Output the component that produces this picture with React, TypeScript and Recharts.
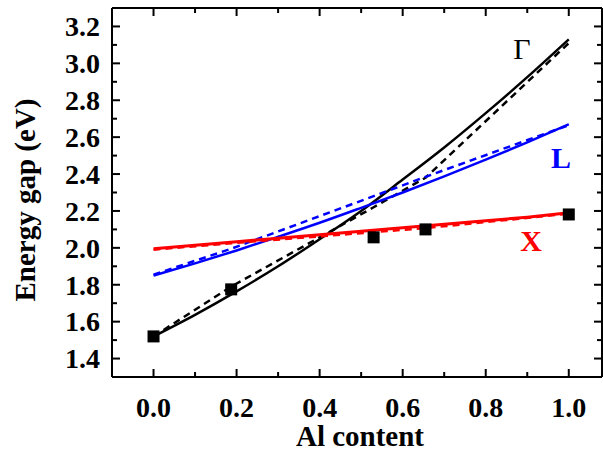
import {
  ComposedChart,
  Line,
  Scatter,
  XAxis,
  YAxis,
  ReferenceLine,
  ReferenceDot,
} from "recharts";

// fitted band-gap curves, read at x = 0 .. 1 step 0.1
const CURVE_X = [0, 0.1, 0.2, 0.3, 0.4, 0.5, 0.6, 0.7, 0.8, 0.9, 1.0];
const GAMMA_FIT = [1.52, 1.637, 1.764, 1.9, 2.047, 2.2, 2.37, 2.544, 2.73, 2.925, 3.13];
const L_FIT = [1.85, 1.916, 1.986, 2.06, 2.136, 2.217, 2.3, 2.387, 2.478, 2.572, 2.67];
const X_FIT = [1.995, 2.014, 2.033, 2.052, 2.071, 2.09, 2.109, 2.128, 2.147, 2.166, 2.19];

// dashed lines join values at the sample compositions
const SAMPLE_X = [0, 0.187, 0.53, 0.655, 1.0];
const GAMMA_LIN = [1.52, 1.79, 2.22, 2.38, 3.11];
const L_LIN = [1.855, 1.995, 2.28, 2.385, 2.665];
const X_LIN = [1.99, 2.025, 2.085, 2.107, 2.185];
const MEASURED = [1.52, 1.775, 2.057, 2.1, 2.181];

const X_TICKS = [0, 0.1, 0.2, 0.3, 0.4, 0.5, 0.6, 0.7, 0.8, 0.9, 1.0];
const Y_TICKS = [
  1.4, 1.5, 1.6, 1.7, 1.8, 1.9, 2.0, 2.1, 2.2, 2.3, 2.4, 2.5, 2.6, 2.7, 2.8,
  2.9, 3.0, 3.1, 3.2,
];

const W = 603;
const H = 459;
const TOP = 8;
const LEFT = 112;
const RIGHT = 602;
const BOTTOM = 377;
const FONT = "'Liberation Serif', 'Times New Roman', serif";

const zip = (xs: number[], ys: number[]) => xs.map((x, i) => ({ x, y: ys[i] }));

const isMajor = (v: number) => Math.round(v * 10) % 2 === 0;

function XTick({ x, payload }: any) {
  const v = payload.value;
  const len = isMajor(v) ? 8 : 5;
  return (
    <g>
      <line x1={x} y1={BOTTOM} x2={x} y2={BOTTOM - len} stroke="#000" strokeWidth={2} />
      <line x1={x} y1={TOP} x2={x} y2={TOP + len} stroke="#000" strokeWidth={2} />
      {isMajor(v) && (
        <text
          x={x}
          y={BOTTOM + 40}
          textAnchor="middle"
          fontFamily={FONT}
          fontWeight="bold"
          fontSize={28}
          fill="#000"
        >
          {v.toFixed(1)}
        </text>
      )}
    </g>
  );
}

function YTick({ y, payload }: any) {
  const v = payload.value;
  const len = isMajor(v) ? 8 : 5;
  return (
    <g>
      <line x1={LEFT} y1={y} x2={LEFT + len} y2={y} stroke="#000" strokeWidth={2} />
      <line x1={RIGHT} y1={y} x2={RIGHT - len} y2={y} stroke="#000" strokeWidth={2} />
      {isMajor(v) && (
        <text
          x={LEFT - 12}
          y={y}
          dy="0.35em"
          textAnchor="end"
          fontFamily={FONT}
          fontWeight="bold"
          fontSize={28}
          fill="#000"
        >
          {v.toFixed(1)}
        </text>
      )}
    </g>
  );
}

const Square = (p: any) => (
  <rect x={p.cx - 6} y={p.cy - 6} width={12} height={12} fill="#000" />
);

const curveLabel = (text: string, color: string, bold: boolean) => ({
  value: text,
  position: "center" as const,
  fill: color,
  fontFamily: FONT,
  fontWeight: bold ? "bold" : "normal",
  fontSize: 30,
});

export default function App() {
  return (
    <div style={{ position: "absolute", left: 0, top: 0, background: "#fff" }}>
      <ComposedChart
        width={W}
        height={H}
        margin={{ top: TOP, right: W - RIGHT, bottom: 0, left: 0 }}
      >
        <XAxis
          type="number"
          dataKey="x"
          domain={[-0.1, 1.08]}
          ticks={X_TICKS}
          interval={0}
          allowDataOverflow
          height={H - BOTTOM}
          tickSize={0}
          tickLine={false}
          axisLine={{ stroke: "#000", strokeWidth: 2 }}
          tick={<XTick />}
          label={{
            content: () => (
              <text
                x={360}
                y={446}
                textAnchor="middle"
                fontFamily={FONT}
                fontWeight="bold"
                fontSize={29}
                fill="#000"
              >
                Al content
              </text>
            ),
          }}
        />
        <YAxis
          type="number"
          domain={[1.3, 3.3]}
          ticks={Y_TICKS}
          interval={0}
          allowDataOverflow
          width={LEFT}
          tickSize={0}
          tickLine={false}
          axisLine={{ stroke: "#000", strokeWidth: 2 }}
          tick={<YTick />}
          label={{
            content: () => (
              <text
                transform="translate(35,200) rotate(-90)"
                textAnchor="middle"
                fontFamily={FONT}
                fontWeight="bold"
                fontSize={29}
                fill="#000"
              >
                Energy gap (eV)
              </text>
            ),
          }}
        />
        <ReferenceLine y={3.3} stroke="#000" strokeWidth={2} />
        <ReferenceLine x={1.08} stroke="#000" strokeWidth={2} />

        <Line data={zip(CURVE_X, GAMMA_FIT)} dataKey="y" type="monotone" stroke="#000" strokeWidth={2.5} dot={false} isAnimationActive={false} />
        <Line data={zip(SAMPLE_X, GAMMA_LIN)} dataKey="y" type="linear" stroke="#000" strokeWidth={2.5} strokeDasharray="7 5" dot={false} isAnimationActive={false} />
        <Line data={zip(CURVE_X, L_FIT)} dataKey="y" type="monotone" stroke="#0000ff" strokeWidth={2.5} dot={false} isAnimationActive={false} />
        <Line data={zip(SAMPLE_X, L_LIN)} dataKey="y" type="linear" stroke="#0000ff" strokeWidth={2.5} strokeDasharray="7 5" dot={false} isAnimationActive={false} />
        <Line data={zip(CURVE_X, X_FIT)} dataKey="y" type="linear" stroke="#ff0000" strokeWidth={3} dot={false} isAnimationActive={false} />
        <Line data={zip(SAMPLE_X, X_LIN)} dataKey="y" type="linear" stroke="#ff0000" strokeWidth={2.5} strokeDasharray="7 5" dot={false} isAnimationActive={false} />
        <Scatter data={zip(SAMPLE_X, MEASURED)} dataKey="y" shape={Square} isAnimationActive={false} />

        <ReferenceDot x={0.887} y={3.08} r={0} label={curveLabel("Γ", "#000", false)} />
        <ReferenceDot x={0.981} y={2.49} r={0} label={curveLabel("L", "#0000ff", true)} />
        <ReferenceDot x={0.909} y={2.04} r={0} label={curveLabel("X", "#ff0000", true)} />
      </ComposedChart>
    </div>
  );
}
